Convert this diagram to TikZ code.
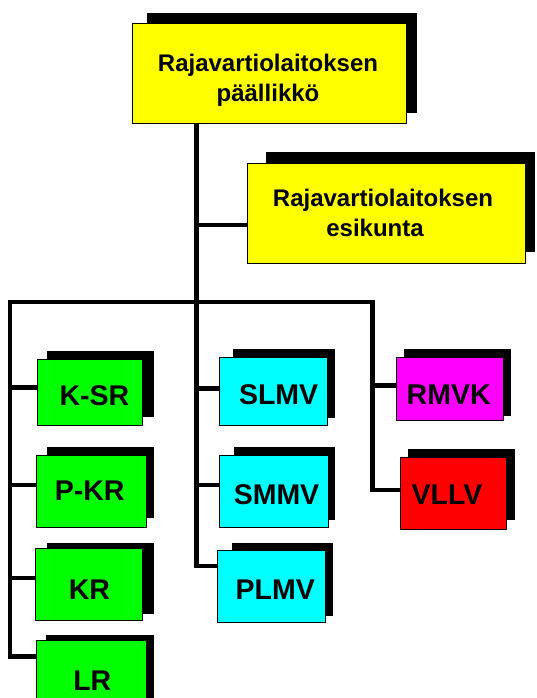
\documentclass[tikz,border=0pt]{standalone}
\usepackage{fontspec}
\setmainfont{Liberation Sans}
\definecolor{yel}{RGB}{255,255,0}
\definecolor{grn}{RGB}{0,255,0}
\definecolor{cya}{RGB}{0,255,255}
\definecolor{mag}{RGB}{255,0,255}
\definecolor{rd}{RGB}{255,0,0}
\begin{document}
\begin{tikzpicture}[x=1pt,y=-1pt,
  box/.style={draw=black, line width=0.8pt, inner sep=0pt},
  shade/.style={fill=black},
  lbl/.style={inner sep=0pt, font=\bfseries\fontsize{28.5}{34}\selectfont},
  biglbl/.style={inner sep=0pt, align=center, font=\bfseries\fontsize{24}{30}\selectfont},
  conn/.style={line width=4.5pt}]
\useasboundingbox (0,0) rectangle (536,698);
\clip (0,0) rectangle (536,698);
% shadows
\fill[shade] (147,13) rectangle (417,113);
\fill[shade] (266,152) rectangle (535,252);
\fill[shade] (46.8,351) rectangle (153.8,417);
\fill[shade] (46.8,447.3) rectangle (153.8,518.1);
\fill[shade] (46.8,543) rectangle (153.8,614.2);
\fill[shade] (46.1,634.7) rectangle (153.8,710);
\fill[shade] (233.1,349) rectangle (335,418);
\fill[shade] (234.2,447.3) rectangle (335,519.8);
\fill[shade] (232.4,543) rectangle (333.3,615.9);
\fill[shade] (404,349) rectangle (511,416);
\fill[shade] (407.8,449) rectangle (514.8,519.8);
% boxes
\node[box, fill=yel, minimum width=274pt, minimum height=100pt] (top) at (269,73) {};
\node[box, fill=yel, minimum width=278pt, minimum height=100pt] (esik) at (386,213) {};
\node[box, fill=grn, minimum width=105pt, minimum height=66pt] (ksr) at (90,392.2) {};
\node[box, fill=grn, minimum width=110.4pt, minimum height=71.8pt] (pkr) at (91.1,491.1) {};
\node[box, fill=grn, minimum width=107pt, minimum height=71.8pt] (kr) at (88.7,584.1) {};
\node[box, fill=grn, minimum width=110pt, minimum height=71.8pt] (lr) at (91.25,676.4) {};
\node[box, fill=cya, minimum width=108pt, minimum height=68.2pt] (slmv) at (273.5,391) {};
\node[box, fill=cya, minimum width=108.7pt, minimum height=71.8pt] (smmv) at (273.85,491.1) {};
\node[box, fill=cya, minimum width=108pt, minimum height=72pt] (plmv) at (271.4,586.65) {};
\node[box, fill=mag, minimum width=106.7pt, minimum height=63.5pt] (rmvk) at (449.85,389) {};
\node[box, fill=rd, minimum width=106.6pt, minimum height=72.5pt] (vllv) at (453.3,493.15) {};
% texts
\node[biglbl] (top-t) at (268,80.5) {Rajavartiolaitoksen\\päällikkö};
\node[biglbl] (esik-t) at (383,212.75) {Rajavartiolaitoksen\\esikunta\hspace*{16pt}};
\node[lbl] (ksr-t) at (94.5,395.7) {K-SR};
\node[lbl] (pkr-t) at (89.7,490.9) {P-KR};
\node[lbl] (kr-t) at (89.4,590) {KR};
\node[lbl] (lr-t) at (92.3,681) {LR};
\node[lbl] (slmv-t) at (278.6,395) {SLMV};
\node[lbl] (smmv-t) at (276.5,495) {SMMV};
\node[lbl] (plmv-t) at (275.2,590) {PLMV};
\node[lbl] (rmvk-t) at (448.7,395) {RMVK};
\node[lbl] (vllv-t) at (447,494.4) {VLLV};
% connectors
\coordinate (tr) at (196.5,302);
\coordinate (bl) at (10,302);
\coordinate (br) at (372.5,302);
\draw[conn] (top.south -| tr) |- ([yshift=20.6pt]plmv.west);
\draw[conn] ([yshift=20pt]lr.west) -| (bl) -- (br) |- ([yshift=3pt]vllv.west);
\path ([yshift=-12pt]esik.west) coordinate (eb);
\draw[conn] (eb) -- (eb -| tr);
\path ([yshift=4.5pt]ksr.west) coordinate (kb);
\draw[conn] (kb) -- (kb -| bl);
\path ([yshift=6pt]pkr.west) coordinate (pb);
\draw[conn] (pb) -- (pb -| bl);
\path ([yshift=6.2pt]kr.west) coordinate (krb);
\draw[conn] (krb) -- (krb -| bl);
\path ([yshift=2.3pt]slmv.west) coordinate (sb);
\draw[conn] (sb) -- (sb -| tr);
\path ([yshift=6pt]smmv.west) coordinate (smb);
\draw[conn] (smb) -- (smb -| tr);
\path ([yshift=3.5pt]rmvk.west) coordinate (rb);
\draw[conn] (rb) -- (rb -| br);
\end{tikzpicture}
\end{document}
